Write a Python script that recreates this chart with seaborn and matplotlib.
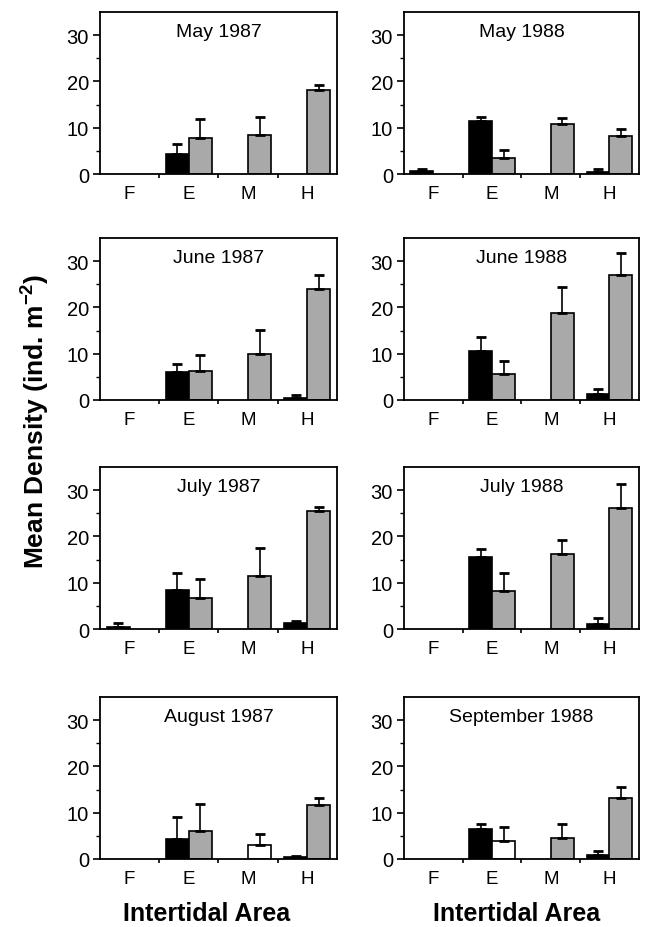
import numpy as np
import pandas as pd
import matplotlib
matplotlib.use("Agg")
import matplotlib.pyplot as plt
import seaborn as sns

areas = ["F", "E", "M", "H"]
groups = ["dark", "light"]

titles = ["May 1987", "May 1988", "June 1987", "June 1988",
          "July 1987", "July 1988", "August 1987", "September 1988"]

# mean density per area (F, E, M, H) for the dark and the light bars
dark_mean = {
    "May 1987":       [0.0, 4.3, 0.0, 0.0],
    "May 1988":       [0.6, 11.5, 0.0, 0.5],
    "June 1987":      [0.0, 6.0, 0.0, 0.5],
    "June 1988":      [0.0, 10.5, 0.0, 1.2],
    "July 1987":      [0.5, 8.4, 0.0, 1.4],
    "July 1988":      [0.0, 15.6, 0.0, 1.0],
    "August 1987":    [0.0, 4.4, 0.0, 0.4],
    "September 1988": [0.0, 6.4, 0.0, 0.8],
}
light_mean = {
    "May 1987":       [0.0, 7.8, 8.5, 18.2],
    "May 1988":       [0.0, 3.4, 10.7, 8.2],
    "June 1987":      [0.0, 6.3, 9.9, 23.9],
    "June 1988":      [0.0, 5.6, 18.7, 26.9],
    "July 1987":      [0.0, 6.6, 11.4, 25.6],
    "July 1988":      [0.0, 8.3, 16.1, 26.2],
    "August 1987":    [0.0, 6.1, 3.1, 11.7],
    "September 1988": [0.0, 3.8, 4.5, 13.1],
}
# upper error (SE) for each bar
dark_err = {
    "May 1987":       [0.0, 2.1, 0.0, 0.0],
    "May 1988":       [0.5, 0.9, 0.0, 0.6],
    "June 1987":      [0.0, 1.7, 0.0, 0.6],
    "June 1988":      [0.0, 3.1, 0.0, 1.1],
    "July 1987":      [0.7, 3.6, 0.0, 0.4],
    "July 1988":      [0.0, 1.7, 0.0, 1.3],
    "August 1987":    [0.0, 4.7, 0.0, 0.2],
    "September 1988": [0.0, 1.1, 0.0, 1.0],
}
light_err = {
    "May 1987":       [0.0, 4.0, 3.9, 1.1],
    "May 1988":       [0.0, 1.8, 1.5, 1.5],
    "June 1987":      [0.0, 3.4, 5.3, 3.0],
    "June 1988":      [0.0, 2.8, 5.7, 4.9],
    "July 1987":      [0.0, 4.1, 6.0, 0.7],
    "July 1988":      [0.0, 3.8, 3.1, 5.2],
    "August 1987":    [0.0, 5.7, 2.4, 1.5],
    "September 1988": [0.0, 3.1, 3.0, 2.5],
}
# bars printed unshaded in the original
white_bars = {"August 1987": [("light", "M")], "September 1988": [("light", "E")]}

sns.set_style("ticks")
plt.rcParams["font.family"] = ["Liberation Sans", "DejaVu Sans"]
plt.rcParams["mathtext.fontset"] = "custom"
plt.rcParams["mathtext.rm"] = "Liberation Sans"
plt.rcParams["mathtext.bf"] = "Liberation Sans:bold"
plt.rcParams["text.color"] = "black"
plt.rcParams["axes.labelcolor"] = "black"
plt.rcParams["xtick.color"] = "black"
plt.rcParams["ytick.color"] = "black"

fig = plt.figure(figsize=(6.47, 9.28), dpi=100)

lefts = [0.1546, 0.6244]
widths = [0.366, 0.363]
bottoms = [0.8114, 0.5679, 0.3211, 0.0733]
height = 0.1746
xlabel_x = [0.45, 0.48]

palette = {"dark": "black", "light": "#a9a9a9"}

for i, title in enumerate(titles):
    row, col = divmod(i, 2)
    ax = fig.add_axes([lefts[col], bottoms[row], widths[col], height])

    df = pd.DataFrame({
        "area": areas * 2,
        "group": ["dark"] * 4 + ["light"] * 4,
        "density": dark_mean[title] + light_mean[title],
        "se": dark_err[title] + light_err[title],
    })

    sns.barplot(data=df, x="area", y="density", hue="group", order=areas,
                hue_order=groups, palette=palette, width=0.78, errorbar=None,
                edgecolor="black", linewidth=1.2, saturation=1, legend=False, ax=ax)

    # patches come out ordered by hue level then by area
    bars = ax.patches[:8]
    k = 0
    for g in groups:
        for a in areas:
            p = bars[k]
            val = df.loc[(df.group == g) & (df.area == a), "density"].iloc[0]
            se = df.loc[(df.group == g) & (df.area == a), "se"].iloc[0]
            if (g, a) in white_bars.get(title, []):
                p.set_facecolor("white")
            if val <= 0:
                p.set_linewidth(0)
            if se > 0:
                xc = p.get_x() + p.get_width() / 2
                ax.errorbar([xc], [val], yerr=[[0], [se]], fmt="none",
                            ecolor="black", elinewidth=1.2, capsize=3.6,
                            capthick=2)
            k += 1

    ax.set_xlim(-0.5, 3.5)
    ax.set_ylim(0, 35)
    ax.set_yticks([0, 10, 20, 30])
    ax.set_yticks([5, 15, 25], minor=True)
    ax.set_xticks([0.5, 1.5, 2.5], minor=True)
    ax.tick_params(axis="y", which="major", length=5, width=1.2,
                   labelsize=14.5, pad=3)
    ax.tick_params(axis="y", which="minor", length=3, width=1)
    ax.tick_params(axis="x", which="major", length=0, labelsize=13.5, pad=8)
    ax.tick_params(axis="x", which="minor", length=3, width=1.2)
    for s in ax.spines.values():
        s.set_linewidth(1.3)
        s.set_color("black")
        s.set_visible(True)
    ax.set_ylabel("")
    ax.set_xlabel("")
    ax.text(0.5, 0.88, title, transform=ax.transAxes, ha="center",
            va="center", fontsize=14)
    if row == 3:
        ax.set_xlabel("Intertidal Area", fontsize=18, fontweight="bold")
        ax.xaxis.set_label_coords(xlabel_x[col], -0.26)

fig.text(0.054, 0.546, r"Mean Density (ind. m$^{\mathbf{-2}}$)", rotation=90,
         ha="center", va="center", fontsize=19, fontweight="bold")

fig.savefig("out.png", dpi=100)
